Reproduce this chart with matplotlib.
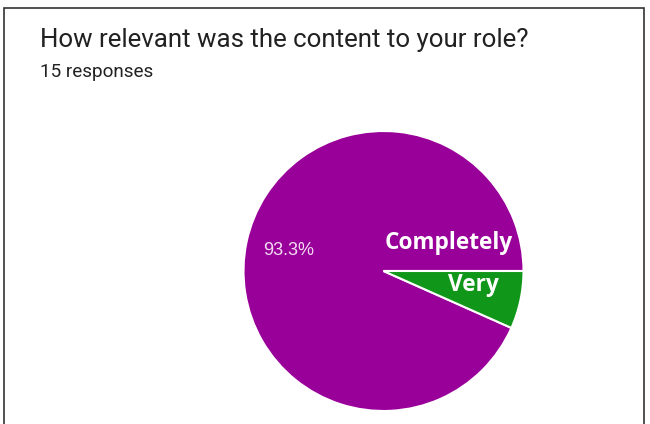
import matplotlib.pyplot as plt
from matplotlib.patches import Rectangle

labels = ['Completely', 'Very']
counts = [14, 1]
colors = ['#990099', '#109618']
title = 'How relevant was the content to your role?'
subtitle = '15 responses'

W, H = 650, 424
fig = plt.figure(figsize=(W / 100, H / 100), dpi=100)
fig.patch.set_facecolor('white')

# frame round the card (open at the bottom)
fig.add_artist(Rectangle((4 / W, -0.1), 640 / W, 1.1 - 8 / H, transform=fig.transFigure,
                         fill=False, edgecolor='#333333', linewidth=1.2))

fig.text(40 / W, 1 - 40 / H, title, fontsize=18.6, family='Roboto', color='#212121', va='center')
fig.text(40 / W, 1 - 72 / H, subtitle, fontsize=13.6, family='Roboto', color='#212121', va='center')

# pie: centre (383.5, 271) px, radius 140 px
cx, cy, r = 383.5, 271, 140
ax = fig.add_axes([(cx - r) / W, (H - cy - r) / H, 2 * r / W, 2 * r / H])
wedges, _, autotexts = ax.pie(counts, colors=colors, startangle=0, counterclock=True,
                              autopct=lambda p: f'{p:.1f}%' if p > 50 else '',
                              pctdistance=0.69,
                              wedgeprops=dict(edgecolor='white', linewidth=1.5),
                              textprops=dict(color='#f3dcf3', fontsize=13, family='Liberation Sans'))
ax.set_xlim(-1, 1)
ax.set_ylim(-1, 1)
ax.set_aspect('equal')
ax.axis('off')

ax.text(0.464, 0.2, labels[0], color='white', fontsize=16.3, fontweight='bold',
        family='Open Sans', ha='center', va='center')
ax.text(0.64, -0.1, labels[1], color='white', fontsize=16.3, fontweight='bold',
        family='Open Sans', ha='center', va='center')

fig.savefig('out.png', dpi=100)
